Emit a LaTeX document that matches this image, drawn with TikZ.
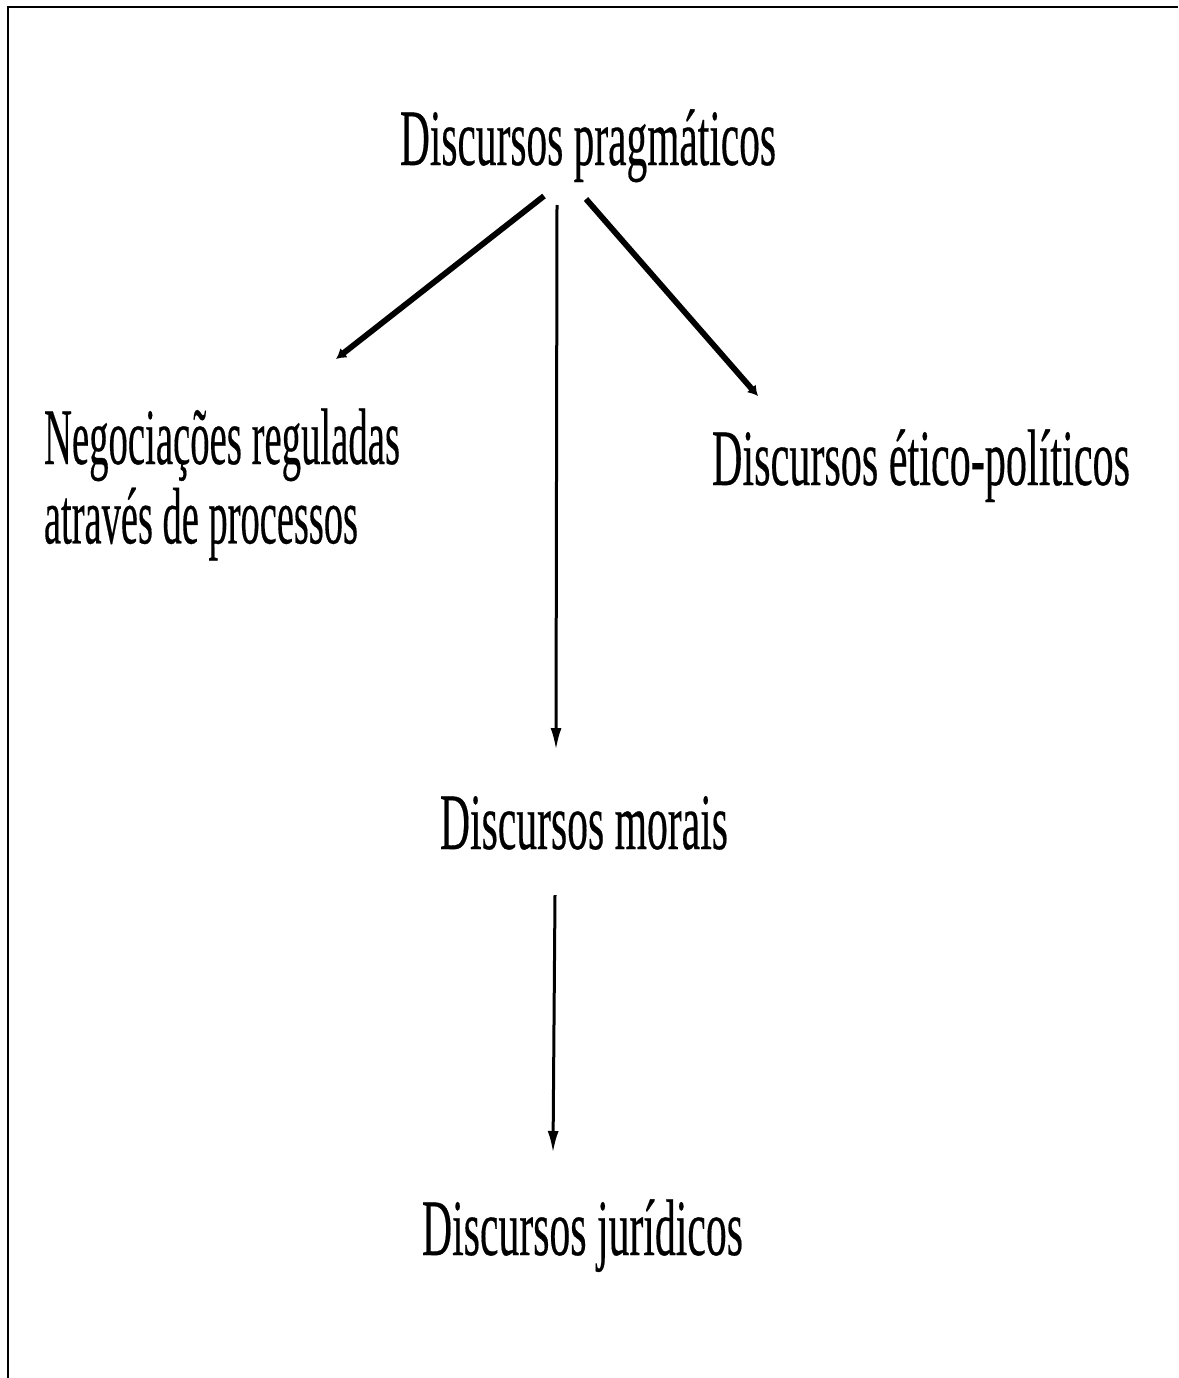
\documentclass[tikz,border=0pt]{standalone}
\usepackage{fontspec}
\setmainfont{Liberation Serif}
\newfontfamily\heavyfont[UprightFeatures={FakeBold=0.4}]{Liberation Serif}
\usetikzlibrary{arrows.meta}
\newcommand{\fitw}[2]{\resizebox{#1}{\height}{#2}}
\begin{document}
\begin{tikzpicture}[x=1pt,y=-1pt,
  lbl/.style={inner sep=0pt, outer sep=0pt, font=\heavyfont\fontsize{80}{79}\selectfont},
  thickarr/.style={line width=5.8pt, -{Latex[length=10pt,width=12pt]}},
  thinarr/.style={line width=3pt, -{Latex[length=22pt,width=11pt]}},
  frame/.style={line width=1.5pt}]
\useasboundingbox (0,0) rectangle (1178,1378);
\draw[frame] (8,1378) -- (8,7) -- (1178,7);

\node[lbl, anchor=base west] (prag) at (400,165) {\fitw{376pt}{Discursos pragmáticos}};
\node[lbl, anchor=base west] (neg) at (44,464) {\begin{tabular}[t]{@{}l@{}}\fitw{356pt}{Negociações reguladas}\\\fitw{314pt}{através de processos}\end{tabular}};
\node[lbl, anchor=base west] (etico) at (712,485) {\fitw{418pt}{Discursos ético-políticos}};
\node[lbl, anchor=base west] (morais) at (440,849) {\fitw{288pt}{Discursos morais}};
\node[lbl, anchor=base west] (jur) at (422,1255) {\fitw{321pt}{Discursos jurídicos}};

\coordinate (aL1) at (544,196);
\coordinate (aL2) at (336,359);
\coordinate (aR1) at (586,199);
\coordinate (aR2) at (758,396);
\coordinate (aM1) at (557,205);
\coordinate (aM2) at (556,750);
\coordinate (aJ1) at (555,895);
\coordinate (aJ2) at (553,1153);

\draw[thickarr] (aL1) -- (aL2);
\draw[thickarr] (aR1) -- (aR2);
\draw[thinarr] (aM1) -- (aM2);
\draw[thinarr] (aJ1) -- (aJ2);
\end{tikzpicture}
\end{document}
